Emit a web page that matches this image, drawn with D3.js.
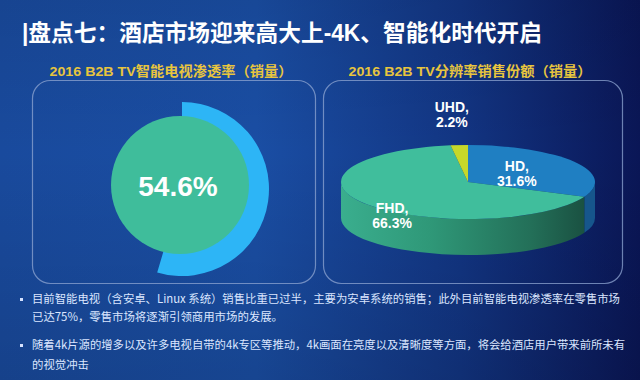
<!DOCTYPE html>
<html><head><meta charset="utf-8">
<script src="https://cdn.jsdelivr.net/npm/d3@7"></script>
<style>html,body{margin:0;padding:0;background:#123a8a;}svg{display:block;}</style>
</head><body>
<svg id="c" width="640" height="380"></svg>
<script>
// ---------- data ----------
const pageTitle = "|盘点七：酒店市场迎来高大上-4K、智能化时代开启";
const gaugeTitle = "2016 B2B TV智能电视渗透率（销量）";
const gaugeValue = [54.6];
const pieTitle = "2016 B2B TV分辨率销售份额（销量）";
const resCategories = ["HD", "FHD", "UHD"];
const resValues = [31.6, 66.3, 2.2];
const bulletLines = [
  ["目前智能电视（含安卓、Linux 系统）销售比重已过半，主要为安卓系统的销售；此外目前智能电视渗透率在零售市场", "已达75%，零售市场将逐渐引领商用市场的发展。"],
  ["随着4k片源的增多以及许多电视自带的4k专区等推动，4k画面在亮度以及清晰度等方面，将会给酒店用户带来前所未有", "的视觉冲击"]
];

// ---------- layout / styles ----------
const W = 640, H = 380;
const svg = d3.select("#c");
const defs = svg.append("defs");
const FONT = "'Liberation Sans','Noto Sans CJK SC',sans-serif";
const CJK = "'Noto Sans CJK SC',sans-serif";

const bg = defs.append("linearGradient").attr("id","bg").attr("x1",0).attr("y1",0).attr("x2",1).attr("y2",0);
[[0,"#194a9d"],[0.4,"#1a4ea4"],[0.72,"#123583"],[1,"#0a1656"]].forEach(s=>bg.append("stop").attr("offset",s[0]).attr("stop-color",s[1]));
const bgv = defs.append("linearGradient").attr("id","bgv").attr("x1",0).attr("y1",0).attr("x2",0).attr("y2",1);
[[0,"#000",0.08],[0.4,"#000",0],[1,"#000",0.12]].forEach(s=>bgv.append("stop").attr("offset",s[0]).attr("stop-color",s[1]).attr("stop-opacity",s[2]));
svg.append("rect").attr("width",W).attr("height",H).attr("fill","url(#bg)");
svg.append("rect").attr("width",W).attr("height",H).attr("fill","url(#bgv)");

// title
svg.append("text").attr("x",22).attr("y",41).attr("fill","#ffffff")
  .attr("font-family",FONT).attr("font-weight","bold").attr("font-size",23)
  .attr("textLength",520).attr("lengthAdjust","spacingAndGlyphs").text(pageTitle);

// panels
const panels = [{x:32,y:80,w:283,h:203,title:gaugeTitle,tx:171},{x:323,y:80,w:299,h:203,title:pieTitle,tx:470}];
panels.forEach(p=>{
  svg.append("rect").attr("x",p.x+0.5).attr("y",p.y+0.5).attr("width",p.w).attr("height",p.h)
    .attr("rx",18).attr("fill","none").attr("stroke","#8fa6d2").attr("stroke-opacity",0.75).attr("stroke-width",1.2);
  svg.append("text").attr("x",p.tx).attr("y",76).attr("text-anchor","middle").attr("fill","#e8c53e")
    .attr("font-family",FONT).attr("font-weight","bold").attr("font-size",13.5)
    .attr("textLength",243).attr("lengthAdjust","spacingAndGlyphs").text(p.title);
});

// ---------- gauge (donut) ----------
const angle = d3.scaleLinear().domain([0,100]).range([0,2*Math.PI]);
const gauge = svg.append("g").attr("transform","translate(182,189)");
gauge.selectAll("path.arc").data(gaugeValue).join("path").attr("class","arc")
  .attr("d", d => d3.arc().innerRadius(62).outerRadius(87).startAngle(0).endAngle(angle(d))())
  .attr("fill","#2db5f6");
svg.append("circle").attr("cx",180).attr("cy",185).attr("r",69).attr("fill","#3fbd9b");
svg.selectAll("text.gv").data(gaugeValue).join("text").attr("class","gv")
  .attr("x",178).attr("y",196).attr("text-anchor","middle").attr("fill","#ffffff")
  .attr("font-family",FONT).attr("font-weight","bold").attr("font-size",28)
  .text(d => d3.format(".1f")(d) + "%");

// ---------- 3D pie ----------
const cx = 468, cy = 182, rx = 127, ry = 37, depth = 36;
const pt = (a, dy=0) => [cx + rx*Math.sin(a), cy - ry*Math.cos(a) + dy];
const pieGen = d3.pie().sort(null).value(d=>d.v).startAngle(0).endAngle(2*Math.PI);
const arcs = pieGen(resCategories.map((c,i)=>({c, v:resValues[i]})));
const topColor = {HD:"#1f7fc2", FHD:"#40be9c", UHD:"#c6d82a"};
const sideColor = {HD:"#16568c", FHD:"url(#fhdSide)", UHD:"#8f9c1c"};

const fg = defs.append("linearGradient").attr("id","fhdSide").attr("gradientUnits","userSpaceOnUse")
  .attr("x1",cx-rx).attr("y1",0).attr("x2",cx+rx).attr("y2",0);
[[0,"#3aae8e"],[0.35,"#2f9878"],[0.75,"#236f58"],[1,"#184b3d"]].forEach(s=>fg.append("stop").attr("offset",s[0]).attr("stop-color",s[1]));

const pieG = svg.append("g");
// side walls (visible lower half: angles PI/2 .. 3PI/2)
arcs.forEach(d=>{
  const b0 = Math.max(d.startAngle, Math.PI/2), b1 = Math.min(d.endAngle, 3*Math.PI/2);
  if (b1 <= b0) return;
  const p = d3.path();
  const s0 = pt(b0), s1 = pt(b1), e1 = pt(b1, depth), e0 = pt(b0, depth);
  const large = (b1-b0) > Math.PI ? 1 : 0;
  p.moveTo(s0[0], s0[1]);
  const str = `M${s0[0]},${s0[1]} A${rx},${ry} 0 ${large} 1 ${s1[0]},${s1[1]} L${e1[0]},${e1[1]} A${rx},${ry} 0 ${large} 0 ${e0[0]},${e0[1]} Z`;
  pieG.append("path").attr("d",str).attr("fill",sideColor[d.data.c]);
});
// top faces
arcs.forEach(d=>{
  const s = pt(d.startAngle), e = pt(d.endAngle);
  const large = (d.endAngle-d.startAngle) > Math.PI ? 1 : 0;
  pieG.append("path").attr("d",`M${cx},${cy} L${s[0]},${s[1]} A${rx},${ry} 0 ${large} 1 ${e[0]},${e[1]} Z`)
    .attr("fill",topColor[d.data.c]);
});
// labels
const labelLayout = {HD:{k:0.46,dy:0}, FHD:{k:0.75,dy:16}, UHD:{k:1.84,dy:0}};
const fmt = d3.format(".1f");
arcs.forEach(d=>{
  const m = (d.startAngle + d.endAngle)/2;
  const L = labelLayout[d.data.c];
  const x = cx + rx*L.k*Math.sin(m), y = cy - ry*L.k*Math.cos(m) + L.dy;
  const t = svg.append("text").attr("text-anchor","middle").attr("fill","#ffffff")
    .attr("font-family",FONT).attr("font-weight","bold").attr("font-size",14);
  t.append("tspan").attr("x",x).attr("y",y-2).text(d.data.c + ",");
  t.append("tspan").attr("x",x).attr("y",y+13).text(fmt(d.data.v) + "%");
});

// ---------- bullets ----------
const lineY = [[303,321],[349,369]];
bulletLines.forEach((lines,i)=>{
  svg.append("rect").attr("x",20).attr("y",lineY[i][0]-5).attr("width",3).attr("height",3).attr("fill","#d6e2ff");
  lines.forEach((ln,j)=>{
    const t = svg.append("text").attr("x",32).attr("y",lineY[i][j]).attr("fill","#dbe6ff")
      .attr("font-family",CJK).attr("font-size",11.4).text(ln);
    if (j===0) t.attr("textLength", i===0 ? 588 : 593).attr("lengthAdjust","spacingAndGlyphs");
  });
});
</script>
</body></html>
